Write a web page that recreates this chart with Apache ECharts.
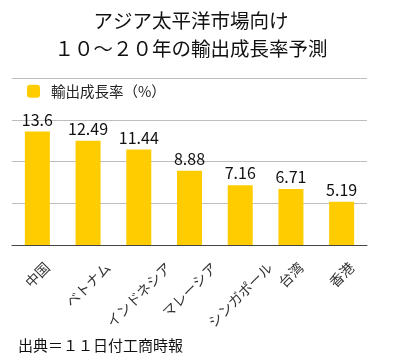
<!DOCTYPE html>
<html><head><meta charset="utf-8">
<script src="https://cdn.jsdelivr.net/npm/echarts@6/dist/echarts.min.js"></script>
<style>html,body{margin:0;padding:0;background:#fff}#c{width:398px;height:360px}</style>
</head><body><div id="c"></div>
<script>
const categories = ['中国','ベトナム','インドネシア','マレーシア','シンガポール','台湾','香港'];
const growth = [13.6, 12.49, 11.44, 8.88, 7.16, 6.71, 5.19];
const titleLines = ['アジア太平洋市場向け','１０～２０年の輸出成長率予測'];
const seriesName = '輸出成長率（%）';
const sourceText = '出典＝１１日付工商時報';
const FONT = '"Noto Sans CJK JP", sans-serif';
const LABEL_FS = 14;
const LABEL_TOP_GAP = 15; // rotated label bbox top below axis line

const ctx = document.createElement('canvas').getContext('2d');
ctx.font = LABEL_FS + 'px ' + FONT;

const chart = echarts.init(document.getElementById('c'));
chart.setOption({
  animation:false,
  textStyle:{fontFamily:FONT},
  title:[{text:titleLines.join('\n'),left:191,textAlign:'center',top:7,padding:0,textStyle:{fontFamily:FONT,fontSize:19.5,fontWeight:'normal',color:'#111',lineHeight:28}},
         {text:sourceText,left:13,top:333,textStyle:{fontFamily:FONT,fontSize:15,fontWeight:'normal',color:'#111'}}],
  legend:{data:[seriesName],left:22,top:79,itemWidth:13,itemHeight:13,itemGap:8,textStyle:{fontFamily:FONT,fontSize:14.5,color:'#222',padding:[0,0,0,6]}},
  grid:{left:12,right:31,top:78,bottom:115,containLabel:false},
  xAxis:{type:'category',data:categories,axisTick:{show:false},axisLine:{lineStyle:{color:'#444'}},
    axisLabel:{show:false}},
  yAxis:{type:'value',min:0,max:20,interval:5,axisLabel:{show:false},axisLine:{show:false},axisTick:{show:false},
    splitLine:{lineStyle:{color:'#bdbdbd'}}},
  series:[{name:seriesName,type:'bar',data:growth,barWidth:25,itemStyle:{color:'#FFCC00'},
    label:{show:true,position:'top',distance:4,fontSize:16,color:'#111',fontFamily:FONT}},
    {type:'custom',name:'categoryLabels',silent:true,clip:false,data:categories.map(function(c,i){return [i,0];}),
     renderItem:function(params, api){
       const pt = api.coord([api.value(0), 0]);
       const text = categories[params.dataIndex];
       const L = ctx.measureText(text).width;
       const h = LABEL_FS;
       return {type:'text', x:pt[0], y:pt[1] + LABEL_TOP_GAP + 0.354*(L+h), rotation:Math.PI/4,
         style:{text:text, font:LABEL_FS+'px '+FONT, fill:'#333', align:'center', verticalAlign:'middle'}};
     }}]
});
</script></body></html>
